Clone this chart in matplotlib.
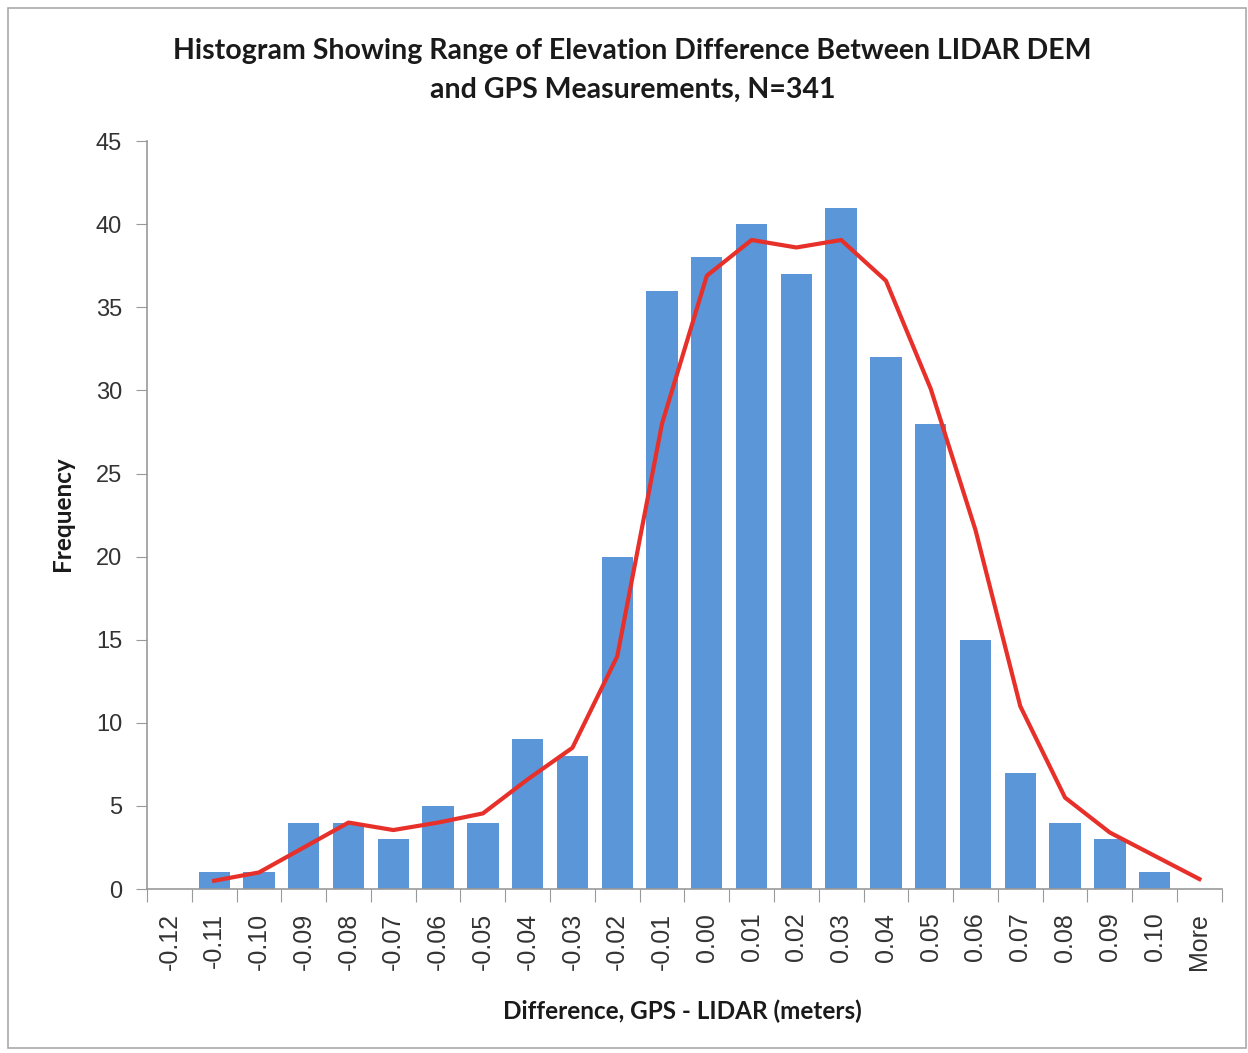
import numpy as np
import matplotlib.pyplot as plt
from matplotlib.patches import Rectangle

# Histogram bins and counts
bins = ['-0.12', '-0.11', '-0.10', '-0.09', '-0.08', '-0.07', '-0.06', '-0.05',
        '-0.04', '-0.03', '-0.02', '-0.01', '0.00', '0.01', '0.02', '0.03',
        '0.04', '0.05', '0.06', '0.07', '0.08', '0.09', '0.10', 'More']
counts = [0, 1, 1, 4, 4, 3, 5, 4, 9, 8, 20, 36, 38, 40, 37, 41, 32, 28, 15, 7, 4, 3, 1, 0]

# Smoothed trend line (starts at -0.11)
trend = [0.5, 1.0, 2.5, 4.0, 3.55, 4.0, 4.55, 6.6, 8.5, 14.0, 28.0, 36.9,
         39.05, 38.6, 39.05, 36.6, 30.1, 21.6, 11.0, 5.5, 3.4, 2.0, 0.6]

x = np.arange(len(bins))

fig = plt.figure(figsize=(12.48, 10.53), dpi=100)
ax = fig.add_axes([0.1178, 0.1557, 0.979 - 0.1178, 0.866 - 0.1557])

ax.bar(x, counts, width=0.7, color='#5A96D8', zorder=2)
ax.plot(x[1:], trend, color='#E8302A', linewidth=3, zorder=3)

ax.set_xlim(-0.5, len(bins) - 0.5)
ax.set_ylim(0, 45)
ax.set_yticks(np.arange(0, 46, 5))

# category ticks at bin boundaries, labels at centres
ax.set_xticks(np.arange(-0.5, len(bins), 1.0))
ax.set_xticklabels([])
ax.set_xticks(x, minor=True)
ax.set_xticklabels(bins, minor=True, rotation=90, fontsize=18,
                   family='Liberation Sans', color='#333333')
ax.tick_params(axis='x', which='minor', length=0, pad=17)
ax.tick_params(axis='x', which='major', length=9, color='#999999', direction='out')
ax.tick_params(axis='y', length=8, color='#999999', direction='out', labelsize=17,
               labelcolor='#333333', pad=10)
for lab in ax.get_yticklabels():
    lab.set_family('Liberation Sans')

for s in ['top', 'right']:
    ax.spines[s].set_visible(False)
for s in ['left', 'bottom']:
    ax.spines[s].set_color('#999999')
    ax.spines[s].set_linewidth(1.2)

fig.text(0.507, 0.952, 'Histogram Showing Range of Elevation Difference Between LIDAR DEM',
         ha='center', va='center', fontsize=20.5, fontweight='bold', family='Lato',
         color='#1a1a1a')
fig.text(0.507, 0.915, 'and GPS Measurements, N=341',
         ha='center', va='center', fontsize=20.5, fontweight='bold', family='Lato',
         color='#1a1a1a')
fig.text(0.05, 0.512, 'Frequency', rotation=90, ha='center', va='center',
         fontsize=17.5, fontweight='bold', family='Lato', color='#1a1a1a')
fig.text(0.547, 0.04, 'Difference, GPS - LIDAR (meters)', ha='center', va='center',
         fontsize=17.5, fontweight='bold', family='Lato', color='#1a1a1a')

# outer chart border
fig.patches.append(Rectangle((8 / 1248, 5 / 1053), 1238 / 1248, 1040 / 1053,
                             transform=fig.transFigure, fill=False,
                             edgecolor='#aaaaaa', linewidth=1.2))

fig.savefig('out.png', dpi=100)
